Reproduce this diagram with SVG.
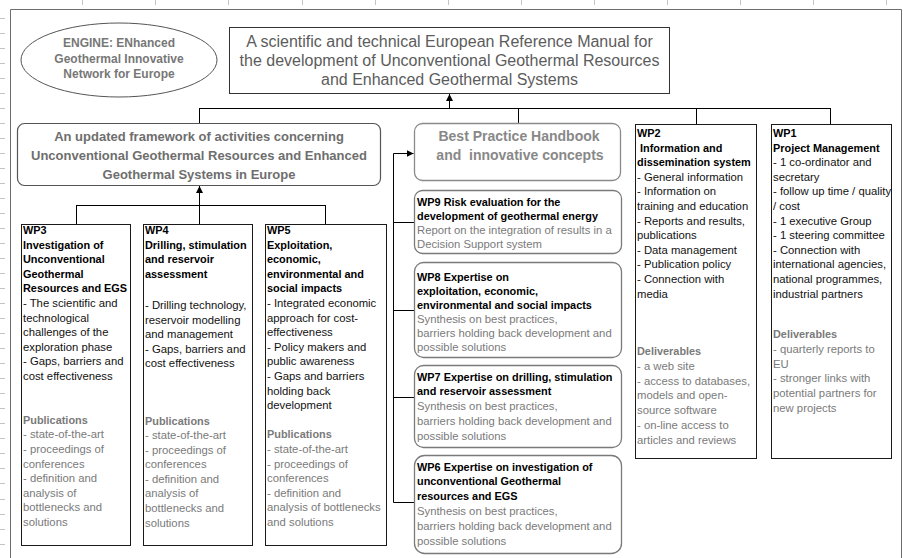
<svg xmlns="http://www.w3.org/2000/svg" width="903" height="558" viewBox="0 0 903 558">
<style>
text{font-family:"Liberation Sans",Arial,sans-serif}
.tick{stroke:#c4c4c4;stroke-width:1}
.frame{fill:none;stroke:#6d6d6d;stroke-width:1}
.box{fill:#fff;stroke:#1a1a1a;stroke-width:1}
.rbox{fill:#fff;stroke:#7a7a7a;stroke-width:1.3}
.con{fill:none;stroke:#000;stroke-width:1}
.b{font-weight:bold;font-size:10.9px;fill:#000}
.r{font-size:11.3px;fill:#111}
.gb{font-weight:bold;font-size:10.9px;fill:#7a7a7a}
.g{font-size:11.3px;fill:#7a7a7a}
</style>
<defs>
<marker id="arr" markerWidth="8" markerHeight="8" refX="7" refY="3.5" orient="auto" markerUnits="userSpaceOnUse"><path d="M0,0 L7,3.5 L0,7 z" fill="#000"/></marker>
</defs>
<rect x="0" y="0" width="903" height="558" fill="#fff"/>
<g id="gridticks">
<path class="tick" d="M82.5,0V5M155.5,0V5M228.5,0V5M302.5,0V5M375.5,0V5M448.5,0V5M521.5,0V5M594.5,0V5M667.5,0V5M740.5,0V5M813.5,0V5M886.5,0V5"/>
<path class="tick" d="M0,18.5H5M0,33.5H5M0,48.5H5M0,63.5H5M0,78.5H5M0,93.5H5M0,108.5H5M0,123.5H5M0,138.5H5M0,153.5H5M0,168.5H5M0,183.5H5M0,198.5H5M0,213.5H5M0,228.5H5M0,243.5H5M0,258.5H5M0,273.5H5M0,288.5H5M0,303.5H5M0,318.5H5M0,333.5H5M0,348.5H5M0,363.5H5M0,378.5H5M0,393.5H5M0,408.5H5M0,423.5H5M0,438.5H5M0,453.5H5M0,468.5H5M0,483.5H5M0,499.5H5M0,514.5H5M0,529.5H5M0,544.5H5"/>
<path class="frame" d="M10.5,558V9.5H901.5V558"/>
</g>
<g id="engine">
<ellipse cx="119" cy="60" rx="98" ry="37" fill="#fff" stroke="#555" stroke-width="1"/>
<text font-size="12" font-weight="bold" fill="#777" text-anchor="middle"><tspan x="119" y="47">ENGINE: ENhanced</tspan><tspan x="119" y="62.5">Geothermal Innovative</tspan><tspan x="119" y="77.5">Network for Europe</tspan></text>
</g>
<g id="manual">
<rect x="229.5" y="27.5" width="440" height="66" fill="#fff" stroke="#333" stroke-width="1"/>
<text font-size="16" fill="#5c5c5c" text-anchor="middle"><tspan x="449.5" y="46.5">A scientific and technical European Reference Manual for</tspan><tspan x="449.5" y="65.8">the development of Unconventional Geothermal Resources</tspan><tspan x="449.5" y="85">and Enhanced Geothermal Systems</tspan></text>
</g>
<g id="connectors">
<path class="con" d="M449.5,108.5V94" marker-end="url(#arr)"/>
<path class="con" d="M199.5,108.5H830.5M199.5,108V123M518.5,108V123M696.5,108V124M830.5,108V124"/>
<path class="con" d="M199.5,205.5V186" marker-end="url(#arr)"/>
<path class="con" d="M76.5,205.5H325.5M76.5,205V224M199.5,205V224M325.5,205V224"/>
<path class="con" d="M393.5,502.5V153.5H413.5" marker-end="url(#arr)"/>
<path class="con" d="M393.5,222.5H414M393.5,310.5H414M393.5,397.5H414M393.5,502.5H414"/>
</g>
<g id="framework">
<rect x="17.5" y="123.5" width="363" height="62" rx="7" fill="#fff" stroke="#555" stroke-width="1.2"/>
<text font-size="13" font-weight="bold" fill="#6e6e6e" text-anchor="middle"><tspan x="199" y="140.5">An updated framework of activities concerning</tspan><tspan x="199" y="159.7">Unconventional Geothermal Resources and Enhanced</tspan><tspan x="199" y="178.9">Geothermal Systems in Europe</tspan></text>
</g>
<g id="bestpractice">
<rect x="414.5" y="123.5" width="206" height="57" rx="8" fill="#fff" stroke="#8a8a8a" stroke-width="1.3"/>
<text font-size="14" font-weight="bold" fill="#888" text-anchor="middle" xml:space="preserve"><tspan x="519" y="141">Best Practice Handbook</tspan><tspan x="520" y="160">and  innovative concepts</tspan></text>
</g>
<g id="wp3">
<rect class="box" x="21.5" y="224.5" width="109" height="321"/>
<text><tspan class="b" x="23" y="234">WP3</tspan><tspan class="b" x="23" y="248.6">Investigation of</tspan><tspan class="b" x="23" y="263.2">Unconventional</tspan><tspan class="b" x="23" y="277.8">Geothermal</tspan><tspan class="b" x="23" y="292.4">Resources and EGS</tspan><tspan class="r" x="23" y="307">- The scientific and</tspan><tspan class="r" x="23" y="321.6">technological</tspan><tspan class="r" x="23" y="336.2">challenges of the</tspan><tspan class="r" x="23" y="350.8">exploration phase</tspan><tspan class="r" x="23" y="365.4">- Gaps, barriers and</tspan><tspan class="r" x="23" y="380">cost effectiveness</tspan><tspan class="gb" x="23" y="423.8">Publications</tspan><tspan class="g" x="23" y="438.4">- state-of-the-art</tspan><tspan class="g" x="23" y="453">- proceedings of</tspan><tspan class="g" x="23" y="467.6">conferences</tspan><tspan class="g" x="23" y="482.2">- definition and</tspan><tspan class="g" x="23" y="496.8">analysis of</tspan><tspan class="g" x="23" y="511.4">bottlenecks and</tspan><tspan class="g" x="23" y="526">solutions</tspan></text>
</g>
<g id="wp4">
<rect class="box" x="143.5" y="224.5" width="109" height="321"/>
<text><tspan class="b" x="145" y="234">WP4</tspan><tspan class="b" x="145" y="248.6">Drilling, stimulation</tspan><tspan class="b" x="145" y="263.2">and reservoir</tspan><tspan class="b" x="145" y="277.8">assessment</tspan><tspan class="r" x="145" y="309">- Drilling technology,</tspan><tspan class="r" x="145" y="323.6">reservoir modelling</tspan><tspan class="r" x="145" y="338.2">and management</tspan><tspan class="r" x="145" y="352.8">- Gaps, barriers and</tspan><tspan class="r" x="145" y="367.4">cost effectiveness</tspan><tspan class="gb" x="145" y="424.5">Publications</tspan><tspan class="g" x="145" y="439">- state-of-the-art</tspan><tspan class="g" x="145" y="453.6">- proceedings of</tspan><tspan class="g" x="145" y="468.2">conferences</tspan><tspan class="g" x="145" y="482.8">- definition and</tspan><tspan class="g" x="145" y="497.4">analysis of</tspan><tspan class="g" x="145" y="512">bottlenecks and</tspan><tspan class="g" x="145" y="526.6">solutions</tspan></text>
</g>
<g id="wp5">
<rect class="box" x="265.5" y="224.5" width="121" height="321"/>
<text><tspan class="b" x="267" y="234">WP5</tspan><tspan class="b" x="267" y="248.6">Exploitation,</tspan><tspan class="b" x="267" y="263.2">economic,</tspan><tspan class="b" x="267" y="277.8">environmental and</tspan><tspan class="b" x="267" y="292.4">social impacts</tspan><tspan class="r" x="267" y="307">- Integrated economic</tspan><tspan class="r" x="267" y="321.6">approach for cost-</tspan><tspan class="r" x="267" y="336.2">effectiveness</tspan><tspan class="r" x="267" y="350.8">- Policy makers and</tspan><tspan class="r" x="267" y="365.4">public awareness</tspan><tspan class="r" x="267" y="380">- Gaps and barriers</tspan><tspan class="r" x="267" y="394.6">holding back</tspan><tspan class="r" x="267" y="409.2">development</tspan><tspan class="gb" x="267" y="438.4">Publications</tspan><tspan class="g" x="267" y="453">- state-of-the-art</tspan><tspan class="g" x="267" y="467.6">- proceedings of</tspan><tspan class="g" x="267" y="482.2">conferences</tspan><tspan class="g" x="267" y="496.8">- definition and</tspan><tspan class="g" x="267" y="511.4">analysis of bottlenecks</tspan><tspan class="g" x="267" y="526">and solutions</tspan></text>
</g>
<g id="wp9">
<rect class="rbox" x="414.5" y="190.5" width="207" height="63" rx="8"/>
<text><tspan class="b" x="417" y="205.5">WP9 Risk evaluation for the</tspan><tspan class="b" x="417" y="220">development of geothermal energy</tspan><tspan class="g" x="417" y="234">Report on the integration of results in a</tspan><tspan class="g" x="417" y="248">Decision Support system</tspan></text>
</g>
<g id="wp8">
<rect class="rbox" x="414.5" y="262.5" width="207" height="95" rx="9"/>
<text><tspan class="b" x="417" y="280.5">WP8 Expertise on</tspan><tspan class="b" x="417" y="294.6">exploitation, economic,</tspan><tspan class="b" x="417" y="308.7">environmental and social impacts</tspan><tspan class="g" x="417" y="322.8">Synthesis on best practices,</tspan><tspan class="g" x="417" y="336.9">barriers holding back development and</tspan><tspan class="g" x="417" y="351">possible solutions</tspan></text>
</g>
<g id="wp7">
<rect class="rbox" x="414.5" y="365.5" width="207" height="82" rx="9"/>
<text><tspan class="b" x="417" y="380.5">WP7 Expertise on drilling, stimulation</tspan><tspan class="b" x="417" y="395.3">and reservoir assessment</tspan><tspan class="g" x="417" y="410.1">Synthesis on best practices,</tspan><tspan class="g" x="417" y="424.9">barriers holding back development and</tspan><tspan class="g" x="417" y="439.7">possible solutions</tspan></text>
</g>
<g id="wp6">
<rect class="rbox" x="414.5" y="455.5" width="207" height="98" rx="10"/>
<text><tspan class="b" x="417" y="470.5">WP6 Expertise on investigation of</tspan><tspan class="b" x="417" y="485.4">unconventional Geothermal</tspan><tspan class="b" x="417" y="500.3">resources and EGS</tspan><tspan class="g" x="417" y="515.2">Synthesis on best practices,</tspan><tspan class="g" x="417" y="530.1">barriers holding back development and</tspan><tspan class="g" x="417" y="545">possible solutions</tspan></text>
</g>
<g id="wp2">
<rect class="box" x="635.5" y="124.5" width="121" height="334"/>
<text><tspan class="b" x="637" y="137">WP2</tspan><tspan class="b" x="640" y="151.6">Information and</tspan><tspan class="b" x="637" y="166.2">dissemination system</tspan><tspan class="r" x="637" y="180.8">- General information</tspan><tspan class="r" x="637" y="195.4">- Information on</tspan><tspan class="r" x="637" y="210">training and education</tspan><tspan class="r" x="637" y="224.6">- Reports and results,</tspan><tspan class="r" x="637" y="239.2">publications</tspan><tspan class="r" x="637" y="253.8">- Data management</tspan><tspan class="r" x="637" y="268.4">- Publication policy</tspan><tspan class="r" x="637" y="283">- Connection with</tspan><tspan class="r" x="637" y="297.6">media</tspan><tspan class="gb" x="637" y="354.5">Deliverables</tspan><tspan class="g" x="637" y="370">- a web site</tspan><tspan class="g" x="637" y="384.5">- access to databases,</tspan><tspan class="g" x="637" y="399">models and open-</tspan><tspan class="g" x="637" y="414">source software</tspan><tspan class="g" x="637" y="429">- on-line access to</tspan><tspan class="g" x="637" y="443.5">articles and reviews</tspan></text>
</g>
<g id="wp1">
<rect class="box" x="771.5" y="124.5" width="120" height="334"/>
<text><tspan class="b" x="773" y="137">WP1</tspan><tspan class="b" x="773" y="151.6" font-size="11.6">Project Management</tspan><tspan class="r" x="773" y="166.2">- 1 co-ordinator and</tspan><tspan class="r" x="773" y="180.8">secretary</tspan><tspan class="r" x="773" y="195.4">- follow up time / quality</tspan><tspan class="r" x="773" y="210">/ cost</tspan><tspan class="r" x="773" y="224.6">- 1 executive Group</tspan><tspan class="r" x="773" y="239.2">- 1 steering committee</tspan><tspan class="r" x="773" y="253.8">- Connection with</tspan><tspan class="r" x="773" y="268.4">international agencies,</tspan><tspan class="r" x="773" y="283">national programmes,</tspan><tspan class="r" x="773" y="297.6">industrial partners</tspan><tspan class="gb" x="773" y="337.5">Deliverables</tspan><tspan class="g" x="773" y="353">- quarterly reports to</tspan><tspan class="g" x="773" y="367.5">EU</tspan><tspan class="g" x="773" y="382">- stronger links with</tspan><tspan class="g" x="773" y="396.5">potential partners for</tspan><tspan class="g" x="773" y="411.5">new projects</tspan></text>
</g>
</svg>
